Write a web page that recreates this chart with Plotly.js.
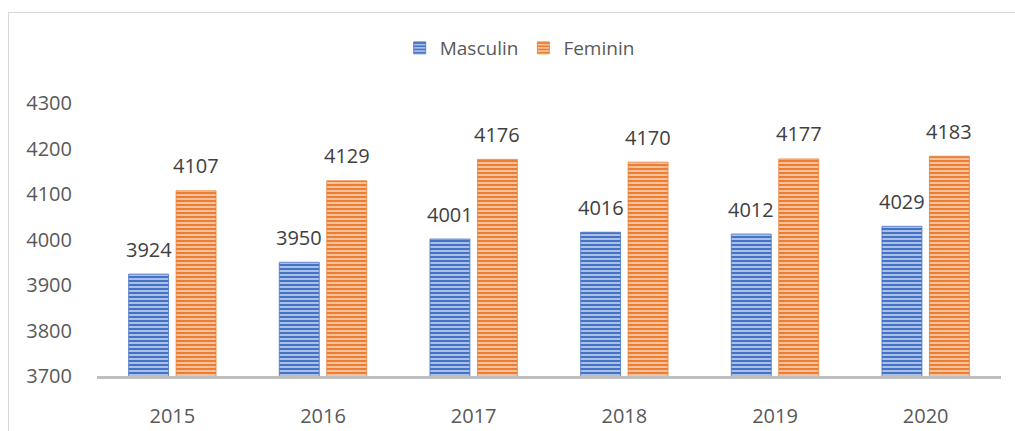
<!DOCTYPE html>
<html>
<head>
<meta charset="utf-8">
<script src="https://cdn.plot.ly/plotly-3.0.1.min.js"></script>
<style>
html,body{margin:0;padding:0;background:#fff;}
#wrap{position:relative;width:1015px;height:431px;}
#chart{width:1015px;height:431px;}
#frame{position:absolute;left:8px;top:12px;width:1010px;height:430px;border-left:1.5px solid #D9D9D9;border-top:1.5px solid #D9D9D9;pointer-events:none;}
</style>
</head>
<body>
<div id="wrap"><div id="chart"></div><div id="frame"></div></div>
<script>
const years = ['2015','2016','2017','2018','2019','2020'];
const masculin = [3924, 3950, 4001, 4016, 4012, 4029];
const feminin = [4107, 4129, 4176, 4170, 4177, 4183];
const yTicks = [3700, 3800, 3900, 4000, 4100, 4200, 4300];

const FONT = 'Open Sans, Noto Sans, sans-serif';

function barTrace(name, vals, dark, light) {
  return {
    type: 'bar', name: name, x: years, y: vals,
    marker: {
      color: light,
      line: {color: dark, width: 0.8},
      pattern: {shape: '-', fgcolor: dark, bgcolor: light, size: 4, solidity: 0.6}
    },
    hoverinfo: 'x+y'
  };
}

const traces = [
  barTrace('Masculin', masculin, '#4472C4', '#C5D4F0'),
  barTrace('Feminin', feminin, '#ED7D31', '#F9D3B8')
];

const annotations = [];
years.forEach((yr, i) => {
  annotations.push({x: i, y: masculin[i], text: String(masculin[i]), showarrow: false,
    xshift: -23.75, yshift: 25, yanchor: 'middle', font: {family: FONT, size: 20, color: '#404040'}});
  annotations.push({x: i, y: feminin[i], text: String(feminin[i]), showarrow: false,
    xshift: 23.75, yshift: 25, yanchor: 'middle', font: {family: FONT, size: 20, color: '#404040'}});
});

const layout = {
  width: 1015, height: 431,
  margin: {l: 97, r: 14, t: 103, b: 55, pad: 0},
  paper_bgcolor: '#fff', plot_bgcolor: '#fff',
  barmode: 'group', bargap: 0.37, bargroupgap: 0.158,
  font: {family: FONT, size: 20, color: '#595959'},
  showlegend: true,
  legend: {orientation: 'h', xref: 'container', yref: 'container', x: 0.512, xanchor: 'center',
    y: 1 - 48/431, yanchor: 'middle', font: {family: FONT, size: 19, color: '#595959'},
    bgcolor: 'rgba(0,0,0,0)', itemwidth: 30},
  xaxis: {type: 'category', range: [-0.5, 5.5], autorange: false, showline: true, linecolor: '#BFBFBF', linewidth: 3,
    ticks: 'outside', ticklen: 20, tickcolor: 'rgba(0,0,0,0)', showgrid: false, zeroline: false,
    tickfont: {family: FONT, size: 20, color: '#595959'}, fixedrange: true},
  yaxis: {range: [3700, 4300], autorange: false, tickvals: yTicks, ticktext: yTicks.map(String), showline: false,
    showgrid: false, zeroline: false, ticks: 'outside', ticklen: 20, tickcolor: 'rgba(0,0,0,0)',
    tickfont: {family: FONT, size: 20, color: '#595959'}, fixedrange: true},
  annotations: annotations
};

Plotly.newPlot('chart', traces, layout, {displayModeBar: false, staticPlot: true});
</script>
</body>
</html>
